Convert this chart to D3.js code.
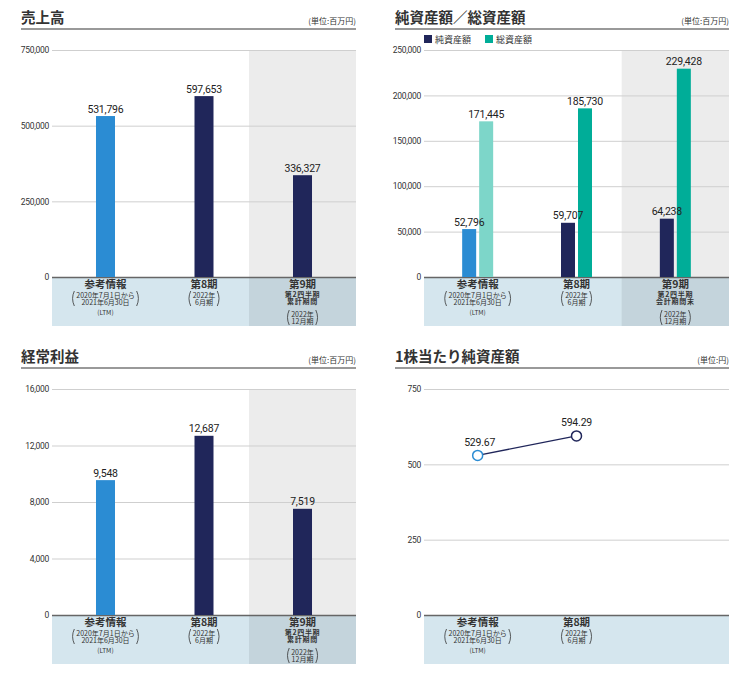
<!DOCTYPE html>
<html>
<head>
<meta charset="utf-8">
<script src="https://cdn.jsdelivr.net/npm/d3@7"></script>
<style>
body { margin: 0; background: #fff; }
text { font-family: "Noto Sans CJK JP", "Noto Sans", sans-serif; }
text.num { font-family: Roboto, "Noto Sans", sans-serif; }
</style>
</head>
<body>
<div id="chart-area"></div>
<script>
// data
var categories = ['参考情報', '第8期', '第9期']
var periodLines = [['2020年7月1日から', '2021年6月30日'], ['2022年', '6月期'], ['2022年', '12月期']]
var ltmNote = '(LTM)'
var q2Cumulative = ['第2四半期', '累計期間']
var q2End = ['第2四半期', '会計期間末']

var sales = [531796, 597653, 336327]
var salesTicks = [0, 250000, 500000, 750000]

var assetNames = ['純資産額', '総資産額']
var netAssets = [52796, 59707, 64238]
var totalAssets = [171445, 185730, 229428]
var assetTicks = [0, 50000, 100000, 150000, 200000, 250000]

var ordinaryProfit = [9548, 12687, 7519]
var profitTicks = [0, 4000, 8000, 12000, 16000]

var bps = [529.67, 594.29]
var bpsTicks = [0, 250, 500, 750]

// colours
var navy = '#20265a', blue = '#2b8cd3', lightTeal = '#7dd6c9', teal = '#00ad98'

var svg = d3.select('#chart-area').append('svg')
	.attr('width', 750)
	.attr('height', 676)

// draws title, unit, grid, shading and the category strip of one panel
function panel(o) {
	var g = svg.append('g')

	g.append('text')
		.attr('x', o.titleX).attr('y', o.titleY)
		.attr('font-size', '14.5px').attr('font-weight', 700).attr('fill', '#333')
		.text(o.title)
	g.append('text')
		.attr('x', o.right).attr('y', o.titleY + 1)
		.attr('text-anchor', 'end').attr('font-size', '8px').attr('fill', '#333')
		.text(o.unit)
	g.append('line')
		.attr('x1', o.titleX).attr('x2', o.right)
		.attr('y1', o.titleY + 6).attr('y2', o.titleY + 6)
		.attr('stroke', '#777').attr('stroke-width', 1.6)

	var x = d3.scalePoint().domain(categories).range([o.left, o.right]).padding(0.543)
	var y = d3.scaleLinear().domain([0, d3.max(o.ticks)]).range([o.bottom, o.top])
	var edge = x.padding() * x.step()
	var shadeX = x(categories[2]) - edge

	if (o.shade) {
		g.append('rect')
			.attr('x', shadeX).attr('y', o.top)
			.attr('width', o.right - shadeX).attr('height', o.bottom - o.top)
			.attr('fill', '#ececec')
	}

	// category strip
	g.append('rect')
		.attr('x', o.left).attr('y', o.bottom)
		.attr('width', o.right - o.left).attr('height', 49)
		.attr('fill', '#d5e6ee')
	if (o.shade) {
		g.append('rect')
			.attr('x', shadeX).attr('y', o.bottom)
			.attr('width', o.right - shadeX).attr('height', 49)
			.attr('fill', '#c4d4dc')
	}

	var yAxis = d3.axisLeft(y)
		.tickValues(o.ticks)
		.tickSize(-(o.right - o.left))
		.tickPadding(3)
		.tickFormat(d3.format(','))

	var ax = g.append('g')
		.attr('transform', 'translate(' + o.left + ',0)')
		.call(yAxis)
	ax.attr('font-family', null).attr('font-size', null)
	ax.select('.domain').remove()
	ax.selectAll('.tick line').attr('stroke', '#cfcfcf')
	ax.selectAll('.tick').filter(function(d){ return d === 0 }).select('line')
		.attr('stroke', '#666').attr('stroke-width', 1.5)
	ax.selectAll('.tick text')
		.attr('class', 'num')
		.attr('font-size', '8.5px')
		.attr('fill', '#333')
		.style('letter-spacing', '-0.3px')

	// category labels: one text block per category, lines as tspans
	var count = o.q2 ? 3 : 2
	for (var i = 0; i < count; i++) {
		var cx = x(categories[i])
		var b = o.bottom
		var block = g.append('text')
			.attr('x', cx).attr('y', b + 11)
			.attr('text-anchor', 'middle').attr('fill', '#333')
		block.append('tspan')
			.attr('x', cx).attr('font-size', '10.5px').attr('font-weight', 700)
			.text(categories[i])

		var subTop = 20.5
		if (i === 2) {
			o.q2.forEach(function(t, k){
				block.append('tspan')
					.attr('x', cx).attr('y', b + 19.5 + k * 7.5)
					.attr('font-size', '7px').attr('font-weight', 700)
					.style('letter-spacing', '0.7px')
					.text(t)
			})
			subTop = 39.5
		}
		var w = 0
		periodLines[i].forEach(function(t, k){
			var ts = block.append('tspan')
				.attr('x', cx).attr('y', b + subTop + k * 7)
				.attr('font-size', '7px')
				.text(t)
			w = Math.max(w, ts.node().getComputedTextLength())
		})
		if (i === 0) {
			block.append('tspan')
				.attr('x', cx).attr('y', b + 38)
				.attr('font-size', '6.5px')
				.text(ltmNote)
		}

		// round brackets around the period
		var y1 = b + subTop - 6.5, y2 = b + subTop + 8.5, half = w / 2 + 4
		g.append('path')
			.attr('d', 'M' + (cx - half + 2) + ',' + y1 + 'Q' + (cx - half - 1.5) + ',' + ((y1 + y2) / 2) + ' ' + (cx - half + 2) + ',' + y2)
			.attr('fill', 'none').attr('stroke', '#333').attr('stroke-width', 0.8)
		g.append('path')
			.attr('d', 'M' + (cx + half - 2) + ',' + y1 + 'Q' + (cx + half + 1.5) + ',' + ((y1 + y2) / 2) + ' ' + (cx + half - 2) + ',' + y2)
			.attr('fill', 'none').attr('stroke', '#333').attr('stroke-width', 0.8)
	}

	return { g: g, x: x, y: y }
}

function valueLabel(g, x, y, txt) {
	g.append('text')
		.attr('class', 'num')
		.attr('x', x).attr('y', y)
		.attr('text-anchor', 'middle')
		.attr('font-size', '10.5px')
		.attr('fill', '#222')
		.style('letter-spacing', '-0.2px')
		.text(txt)
}

// simple single-series bar chart (売上高, 経常利益)
function barPanel(o, values) {
	var p = panel(o)
	var bw = 19
	values.forEach(function(v, i){
		p.g.append('rect')
			.attr('x', p.x(categories[i]) - bw / 2)
			.attr('y', p.y(v))
			.attr('width', bw)
			.attr('height', p.y(0) - p.y(v))
			.attr('fill', i === 0 ? blue : navy)
		valueLabel(p.g, p.x(categories[i]), p.y(v) - 3.5, d3.format(',')(v))
	})
}

barPanel({title: '売上高', unit: '(単位:百万円)', titleX: 21, titleY: 23,
	left: 52, right: 356, top: 50, bottom: 277, ticks: salesTicks, shade: true, q2: q2Cumulative}, sales)

barPanel({title: '経常利益', unit: '(単位:百万円)', titleX: 21, titleY: 362,
	left: 52, right: 356, top: 389, bottom: 615, ticks: profitTicks, shade: true, q2: q2Cumulative}, ordinaryProfit)

// grouped bars: 純資産額／総資産額
var pa = panel({title: '純資産額／総資産額', unit: '(単位:百万円)', titleX: 395, titleY: 23,
	left: 424, right: 729, top: 50, bottom: 277, ticks: assetTicks, shade: true, q2: q2End})

var sub = d3.scaleBand().domain(assetNames).range([-15.5, 15.5]).paddingInner(0.176)
var series = [netAssets, totalAssets]
var barLayer = pa.g.append('g')
var labelLayer = pa.g.append('g')
series.forEach(function(vals, s){
	vals.forEach(function(v, i){
		var col = s === 0 ? (i === 0 ? blue : navy) : (i === 0 ? lightTeal : teal)
		var bx = pa.x(categories[i]) + sub(assetNames[s])
		barLayer.append('rect')
			.attr('x', bx)
			.attr('y', pa.y(v))
			.attr('width', sub.bandwidth())
			.attr('height', pa.y(0) - pa.y(v))
			.attr('fill', col)
		valueLabel(labelLayer, bx + sub.bandwidth() / 2, pa.y(v) - 3.5, d3.format(',')(v))
	})
})

// legend
var legend = pa.g.append('g').attr('transform', 'translate(424,35)')
var legendColors = [navy, teal]
var legendX = [0, 61]
assetNames.forEach(function(n, i){
	legend.append('rect').attr('x', legendX[i]).attr('y', 0).attr('width', 8).attr('height', 8).attr('fill', legendColors[i])
	legend.append('text').attr('x', legendX[i] + 11).attr('y', 8).attr('font-size', '9px').attr('fill', '#333').text(n)
})

// line chart: 1株当たり純資産額
var pb = panel({title: '1株当たり純資産額', unit: '(単位:円)', titleX: 395, titleY: 362,
	left: 424, right: 729, top: 389, bottom: 615, ticks: bpsTicks, shade: false, q2: null})

var line = d3.line()
	.x(function(d, i){ return pb.x(categories[i]) })
	.y(function(d){ return pb.y(d) })

pb.g.append('path')
	.datum(bps)
	.attr('d', line)
	.attr('fill', 'none')
	.attr('stroke', navy)
	.attr('stroke-width', 1.3)

pb.g.selectAll('circle')
	.data(bps)
	.enter()
	.append('circle')
	.attr('cx', function(d, i){ return pb.x(categories[i]) })
	.attr('cy', function(d){ return pb.y(d) })
	.attr('r', 5)
	.attr('fill', '#fff')
	.attr('stroke', function(d, i){ return i === 0 ? blue : navy })
	.attr('stroke-width', 1.5)

bps.forEach(function(v, i){
	valueLabel(pb.g, pb.x(categories[i]) + (i === 0 ? 2 : 0), pb.y(v) - 9.5, d3.format('.2f')(v))
})
</script>
</body>
</html>
